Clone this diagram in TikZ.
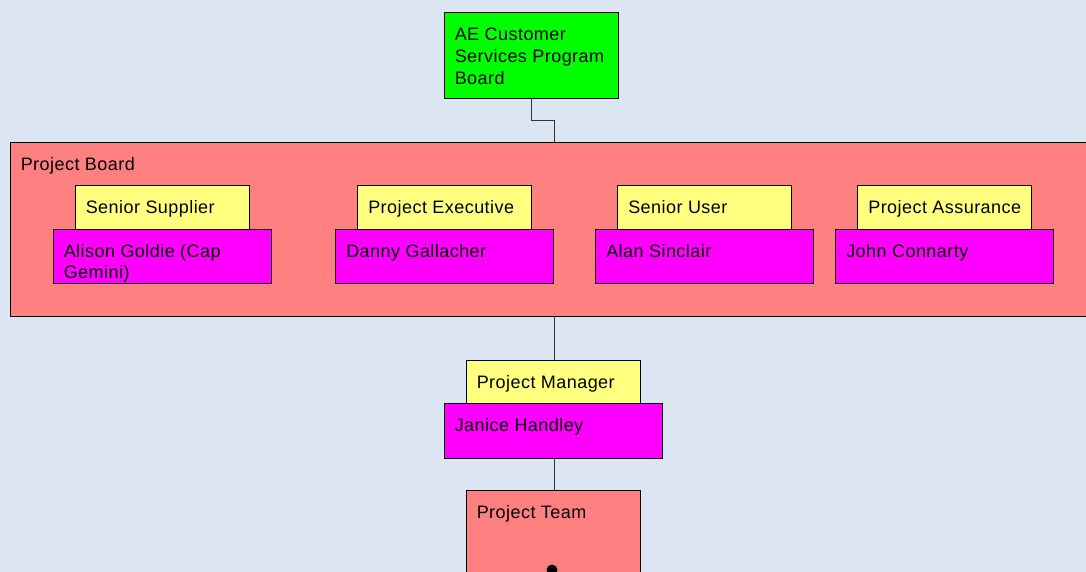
\documentclass[tikz,border=0pt]{standalone}
\usepackage{fontspec}
\setmainfont{Liberation Sans}[LetterSpace=2.5]
\usepackage{tikz}
\definecolor{bgblue}{HTML}{DCE6F2}
\definecolor{boardpink}{HTML}{FF8080}
\definecolor{roleyellow}{HTML}{FFFF80}
\definecolor{namemagenta}{HTML}{FF00FF}
\definecolor{proggreen}{HTML}{00FF00}

\begin{document}
\begin{tikzpicture}[x=1pt,y=1pt,
  box/.style={draw=black, line width=0.8pt, inner sep=0pt},
  role/.style={box, fill=roleyellow, minimum width=174pt, minimum height=44pt},
  person/.style={box, fill=namemagenta, minimum width=218pt, minimum height=54pt},
  txt/.style={anchor=north west, inner sep=0pt, xshift=11pt, yshift=-16pt,
              align=left, font=\fontsize{18}{22}\selectfont},
  link/.style={draw=black!80, line width=0.8pt}]

  % Canvas
  \useasboundingbox (0,0) rectangle (1086,572);
  \fill[bgblue] (0,0) rectangle (1086,572);

  % Program board on top
  \node[box, fill=proggreen, minimum width=174pt, minimum height=86pt] (prog) at (531,517) {};
  \node[txt] (progT) at (prog.north west) {AE Customer\\Services Program\\Board};

  % Project board (runs off the right edge)
  \node[box, fill=boardpink, minimum width=1088pt, minimum height=174pt] (board) at (554,343) {};
  \node[txt] (boardT) at (board.north west) {Project Board};

  % Board members: role on top, name below
  \node[role] (supRole) at (162,365) {};
  \node[txt] (supRoleT) at (supRole.north west) {Senior Supplier};
  \node[person] (supName) at (162,316) {};
  \node[txt] (supNameT) at (supName.north west) {Alison Goldie (Cap\\[-1pt]Gemini)};

  \node[role] (execRole) at (444.5,365) {};
  \node[txt] (execRoleT) at (execRole.north west) {Project Executive};
  \node[person] (execName) at (444.5,316) {};
  \node[txt] (execNameT) at (execName.north west) {Danny Gallacher};

  \node[role] (userRole) at (704.5,365) {};
  \node[txt] (userRoleT) at (userRole.north west) {Senior User};
  \node[person] (userName) at (704.5,316) {};
  \node[txt] (userNameT) at (userName.north west) {Alan Sinclair};

  \node[role] (assRole) at (944.5,365) {};
  \node[txt] (assRoleT) at (assRole.north west) {Project Assurance};
  \node[person] (assName) at (944.5,316) {};
  \node[txt] (assNameT) at (assName.north west) {John Connarty};

  % Project manager
  \node[role, minimum height=43pt] (pmRole) at (553,190.5) {};
  \node[txt] (pmRoleT) at (pmRole.north west) {Project Manager};
  \node[person, minimum height=55pt] (pmName) at (553,141.5) {};
  \node[txt] (pmNameT) at (pmName.north west) {Janice Handley};

  % Project team (runs off the bottom)
  \node[box, fill=boardpink, minimum width=174pt, minimum height=130pt] (team) at (553,17) {};
  \node[txt] (teamT) at (team.north west) {Project Team};
  \fill (552,2) circle (5.5);

  % Connectors
  \draw[link] (prog.south) -- ++(0,-22) -| (board.north);
  \draw[link] (board.south) -- (board.south |- pmRole.north);
  \draw[link] (pmName.south -| board.south) -- (board.south |- team.north);
\end{tikzpicture}
\end{document}
